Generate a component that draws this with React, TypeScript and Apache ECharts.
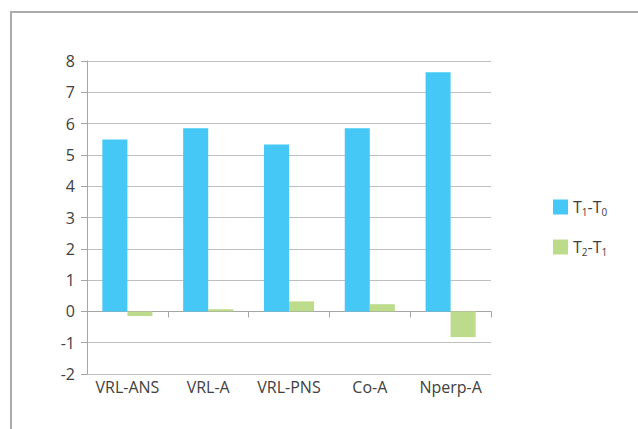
import React, { useEffect, useRef } from "react";
import * as echarts from "echarts";

const categories = ["VRL-ANS", "VRL-A", "VRL-PNS", "Co-A", "Nperp-A"];
const seriesNames = ["T1-T0", "T2-T1"];
const t1t0 = [5.49, 5.85, 5.33, 5.85, 7.64];
const t2t1 = [-0.15, 0.07, 0.32, 0.23, -0.82];
const legendRich: Record<string, string> = {
  "T1-T0": "{a|T}{s|1}{a|-T}{s|0}",
  "T2-T1": "{a|T}{s|2}{a|-T}{s|1}",
};

const FONT = "'Open Sans', 'Noto Sans', sans-serif";
const TEXT = "#404040";

export default function App() {
  const ref = useRef<HTMLDivElement>(null);
  useEffect(() => {
    if (!ref.current) return;
    const chart = echarts.init(ref.current, undefined, { renderer: "svg" });
    chart.setOption({
      animation: false,
      backgroundColor: "#ffffff",
      textStyle: { fontFamily: FONT },
      graphic: [
        {
          type: "rect",
          shape: { x: 11, y: 12, width: 700, height: 500 },
          style: { fill: "none", stroke: "#ababab", lineWidth: 2 },
          silent: true,
        },
      ],
      grid: { left: 87, right: 147, top: 61, bottom: 55, containLabel: false },
      legend: {
        orient: "vertical",
        left: 548,
        top: 194,
        itemWidth: 15,
        itemHeight: 15,
        itemGap: 22,
        icon: "rect",
        data: seriesNames,
        formatter: (name: string) => legendRich[name] || name,
        textStyle: {
          color: TEXT,
          fontFamily: FONT,
          rich: {
            a: { fontSize: 16, lineHeight: 20, color: TEXT, fontFamily: FONT },
            s: {
              fontSize: 10,
              lineHeight: 10,
              verticalAlign: "bottom",
              color: TEXT,
              fontFamily: FONT,
            },
          },
        },
      },
      xAxis: [
        {
          type: "category",
          data: categories,
          position: "top",
          axisLine: { show: true, onZero: true, lineStyle: { color: "#a6a6a6", width: 1 } },
          axisTick: { show: true, inside: true, length: 6, lineStyle: { color: "#a6a6a6" } },
          axisLabel: { show: false },
          splitLine: { show: false },
        },
        {
          type: "category",
          data: categories,
          position: "bottom",
          axisLine: { show: false, onZero: false },
          axisTick: { show: false },
          axisLabel: {
            show: true,
            interval: 0,
            hideOverlap: false,
            color: TEXT,
            fontSize: 16,
            margin: 5,
            fontFamily: FONT,
          },
          splitLine: { show: false },
        },
      ],
      yAxis: {
        type: "value",
        min: -2,
        max: 8,
        interval: 1,
        axisLine: { show: true, lineStyle: { color: "#a6a6a6", width: 1 } },
        axisTick: { show: true, length: 6, lineStyle: { color: "#a6a6a6" } },
        axisLabel: { color: TEXT, fontSize: 16, margin: 12, fontFamily: FONT },
        splitLine: { show: true, lineStyle: { color: "#bfbfbf", width: 1 } },
      },
      series: [
        {
          name: seriesNames[0],
          type: "bar",
          xAxisIndex: 0,
          data: t1t0,
          itemStyle: { color: "#45c8f6" },
          barGap: "0%",
          barCategoryGap: "38%",
        },
        {
          name: seriesNames[1],
          type: "bar",
          xAxisIndex: 0,
          data: t2t1,
          itemStyle: { color: "#bcdc8b" },
          barGap: "0%",
          barCategoryGap: "38%",
        },
      ],
    });
    return () => chart.dispose();
  }, []);
  return (
    <div
      ref={ref}
      style={{ position: "fixed", left: 0, top: 0, width: 638, height: 429 }}
    />
  );
}
